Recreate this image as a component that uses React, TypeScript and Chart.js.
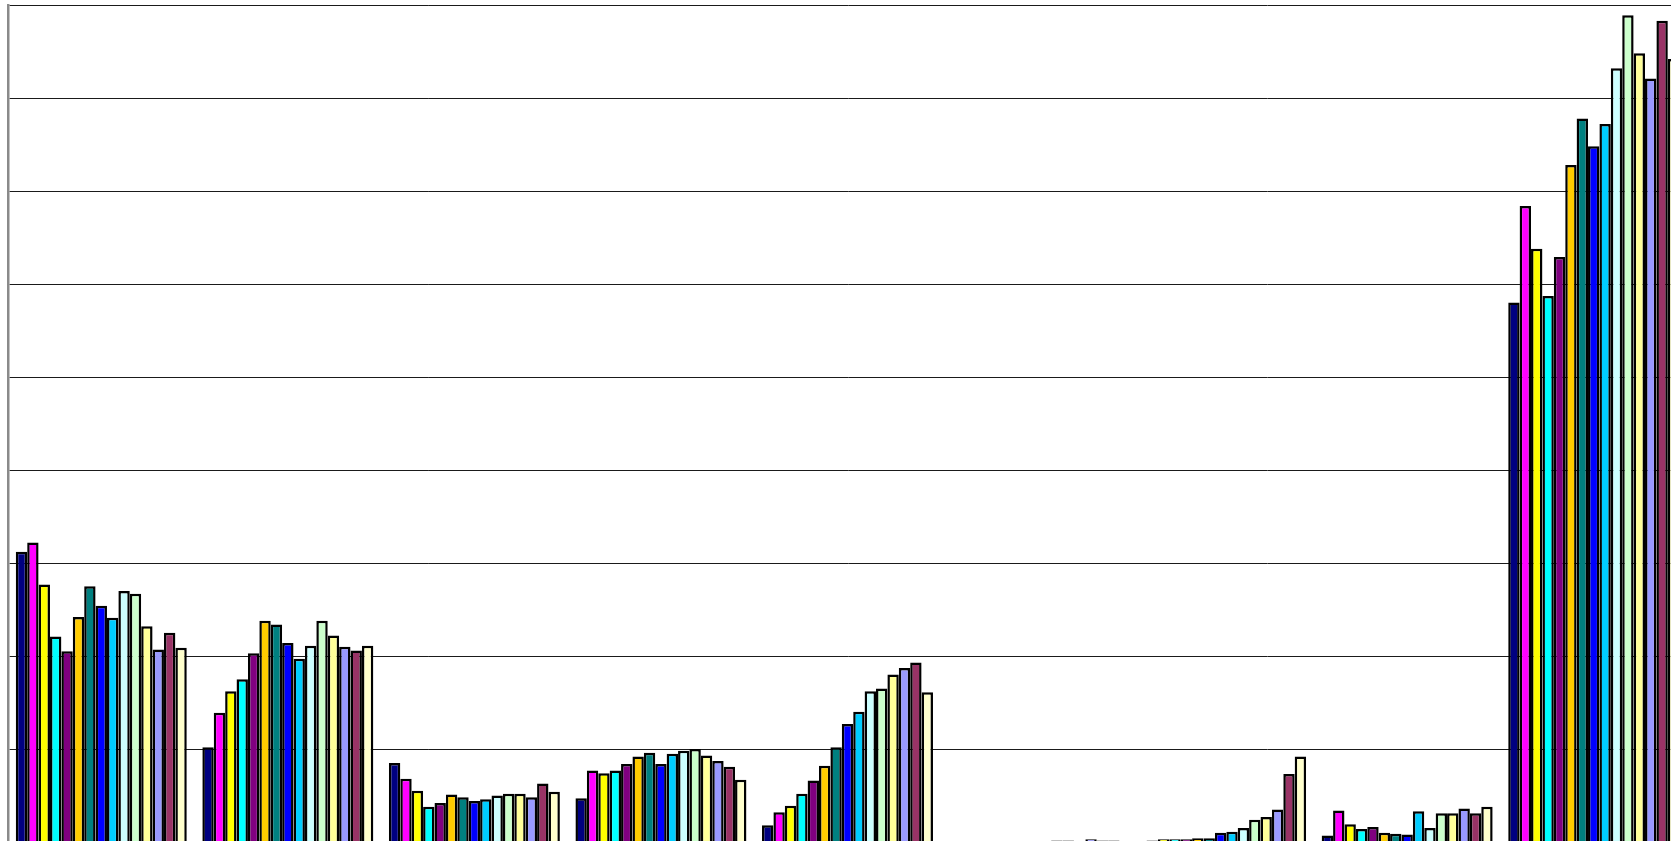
import React, { useEffect, useRef } from "react";
import { Chart, registerables } from "chart.js";

Chart.register(...registerables);

const categories = ["A", "B", "C", "D", "E", "F", "G", "H", "I"];

const seriesNames = [
  "Series 1", "Series 2", "Series 3", "Series 4", "Series 5",
  "Series 6", "Series 7", "Series 8", "Series 9", "Series 10",
  "Series 11", "Series 12", "Series 13", "Series 14", "Series 15",
];

const seriesColors = [
  "#000080", "#FF00FF", "#FFFF00", "#00FFFF", "#800080",
  "#FFCC00", "#008080", "#0000FF", "#00CCFF", "#CCFFFF",
  "#CCFFCC", "#FFFF99", "#9999FF", "#993366", "#FFFFCC",
];

const s1 = [3.12, 1.02, 0.85, 0.47, 0.18, 0, 0, 0.07, 5.8];
const s2 = [3.22, 1.39, 0.68, 0.77, 0.32, 0, 0.015, 0.34, 6.84];
const s3 = [2.77, 1.62, 0.55, 0.74, 0.39, 0, 0.03, 0.19, 6.38];
const s4 = [2.21, 1.75, 0.38, 0.77, 0.52, 0, 0.03, 0.14, 5.87];
const s5 = [2.05, 2.03, 0.42, 0.84, 0.66, 0, 0.03, 0.16, 6.29];
const s6 = [2.42, 2.38, 0.51, 0.92, 0.82, 0, 0.04, 0.1, 7.28];
const s7 = [2.75, 2.34, 0.48, 0.96, 1.02, 0, 0.04, 0.09, 7.78];
const s8 = [2.54, 2.14, 0.44, 0.84, 1.27, 0, 0.1, 0.08, 7.48];
const s9 = [2.41, 1.97, 0.46, 0.95, 1.4, 0, 0.11, 0.33, 7.72];
const s10 = [2.7, 2.11, 0.5, 0.98, 1.62, 0.015, 0.15, 0.15, 8.32];
const s11 = [2.67, 2.38, 0.52, 1.0, 1.65, 0.015, 0.24, 0.31, 8.89];
const s12 = [2.32, 2.22, 0.52, 0.93, 1.8, 0, 0.27, 0.31, 8.48];
const s13 = [2.07, 2.1, 0.48, 0.87, 1.87, 0.03, 0.35, 0.36, 8.21];
const s14 = [2.25, 2.06, 0.63, 0.81, 1.93, 0.015, 0.73, 0.31, 8.83];
const s15 = [2.09, 2.11, 0.54, 0.67, 1.61, 0.015, 0.92, 0.38, 8.42];

const seriesValues = [s1, s2, s3, s4, s5, s6, s7, s8, s9, s10, s11, s12, s13, s14, s15];

const yMax = 9;
const yStep = 1;

export default function App() {
  const canvasRef = useRef<HTMLCanvasElement | null>(null);

  useEffect(() => {
    const canvas = canvasRef.current;
    if (!canvas) return;
    const chart = new Chart(canvas, {
      type: "bar",
      data: {
        labels: categories,
        datasets: seriesValues.map((vals, i) => ({
          label: seriesNames[i],
          data: vals,
          backgroundColor: seriesColors[i],
          borderColor: "#000000",
          borderWidth: 2.5,
          borderSkipped: "start" as const,
          categoryPercentage: 0.9165,
          barPercentage: 1,
        })),
      },
      options: {
        responsive: false,
        animation: false,
        maintainAspectRatio: false,
        layout: { padding: { left: 8, top: 5, right: 13, bottom: 8 } },
        plugins: {
          legend: { display: false },
          tooltip: { enabled: false },
          title: { display: false },
        },
        scales: {
          x: {
            display: false,
            grid: { display: false },
          },
          y: {
            display: true,
            min: 0,
            max: yMax,
            ticks: { display: false, stepSize: yStep },
            grid: {
              display: true,
              drawTicks: false,
              color: "#1a1a1a",
              lineWidth: 1,
            },
            border: { display: true, color: "#8a8a8a", width: 2.5 },
          },
        },
      },
    });
    return () => chart.destroy();
  }, []);

  return (
    <div
      style={{
        position: "fixed",
        left: 0,
        top: 0,
        width: 1671,
        height: 841,
        overflow: "hidden",
        background: "#ffffff",
      }}
    >
      <canvas
        ref={canvasRef}
        width={1700}
        height={850}
        style={{ position: "absolute", left: 0, top: 0, width: 1700, height: 850 }}
      />
    </div>
  );
}
